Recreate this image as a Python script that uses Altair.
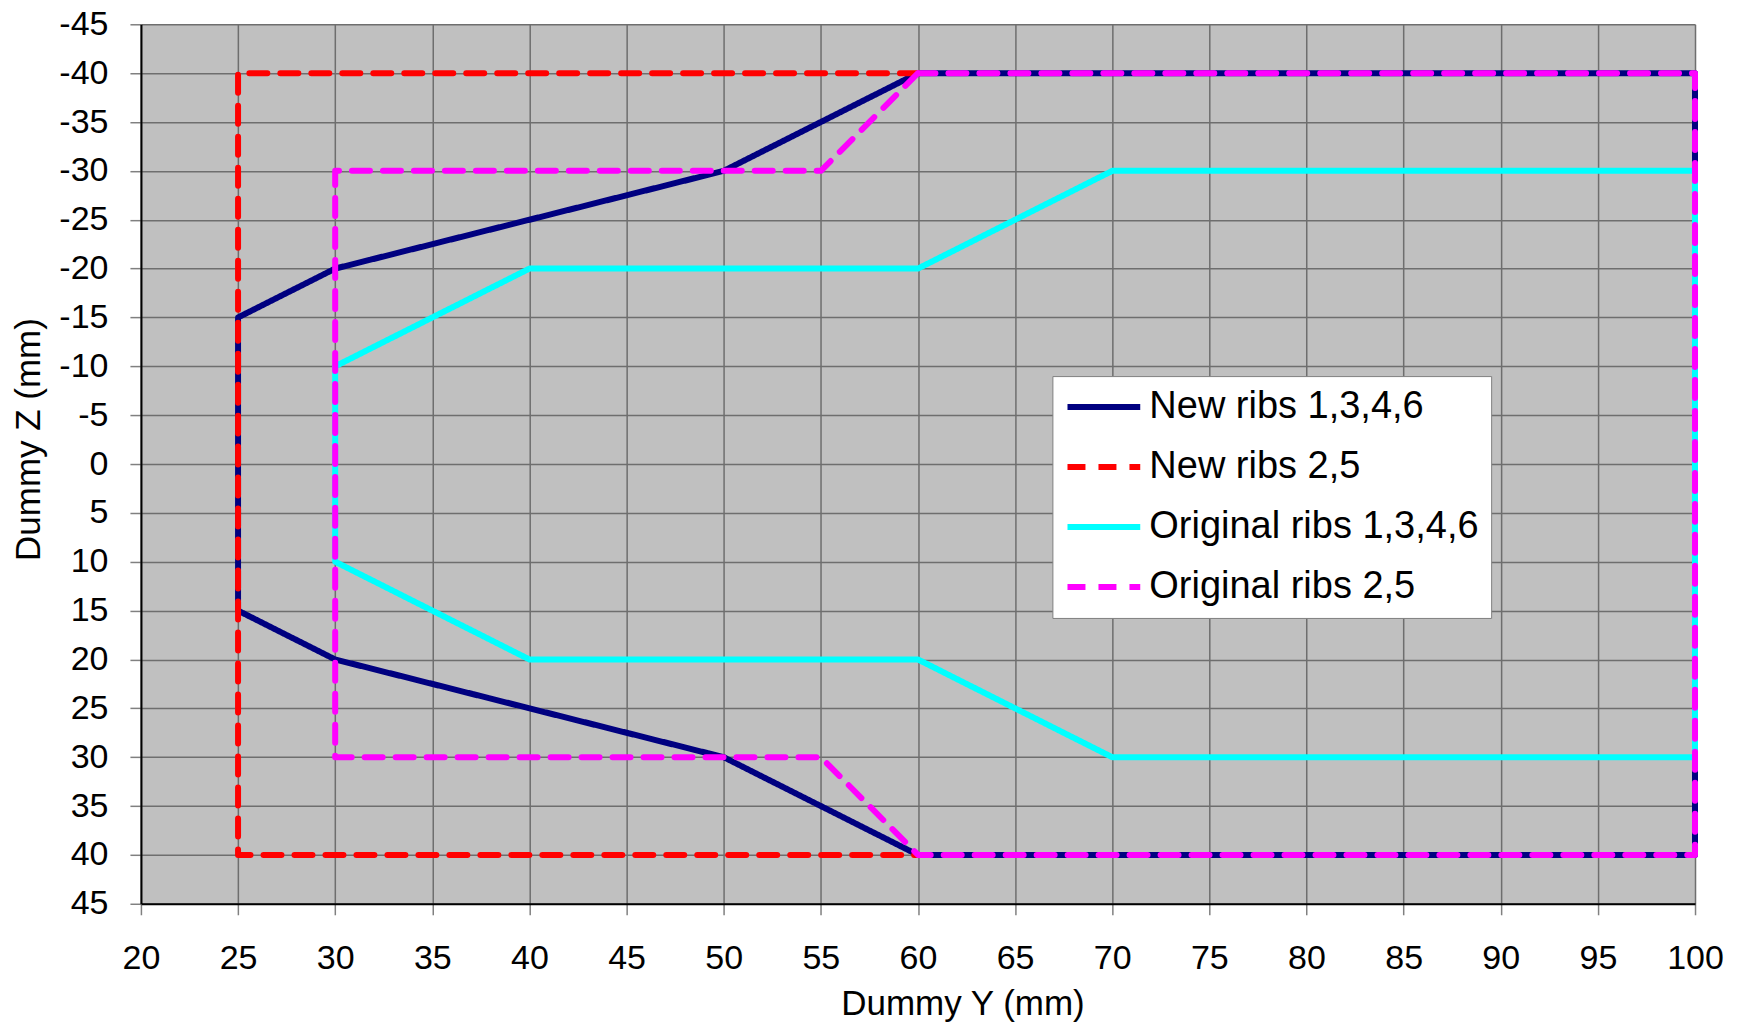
import altair as alt
import pandas as pd

series_names = ["New ribs 1,3,4,6", "New ribs 2,5", "Original ribs 1,3,4,6", "Original ribs 2,5"]

new_1346_y = [60, 50, 30, 25, 25, 30, 50, 60, 100, 100, 60]
new_1346_z = [-40, -30, -20, -15, 15, 20, 30, 40, 40, -40, -40]
new_25_y = [60, 25, 25, 60]
new_25_z = [-40, -40, 40, 40]
orig_1346_y = [100, 70, 60, 40, 30, 30, 40, 60, 70, 100, 100]
orig_1346_z = [-30, -30, -20, -20, -10, 10, 20, 20, 30, 30, -30]
orig_25_y = [60, 55, 30, 30, 55, 60, 100, 100, 60]
orig_25_z = [-40, -30, -30, 30, 30, 40, 40, -40, -40]

colors = ["#000080", "#FF0000", "#00FFFF", "#FF00FF"]
dashes = [[1, 0], [18, 13], [1, 0], [18, 13]]

x_ticks = list(range(20, 101, 5))
y_ticks = list(range(-45, 46, 5))

rows = []
for name, ys, zs in zip(series_names,
                        [new_1346_y, new_25_y, orig_1346_y, orig_25_y],
                        [new_1346_z, new_25_z, orig_1346_z, orig_25_z]):
    for i, (a, b) in enumerate(zip(ys, zs)):
        rows.append({"series": name, "y": a, "z": b, "i": i})
df = pd.DataFrame(rows)

FONT = "Liberation Sans"

legend_def = alt.Legend(
    title=None, orient="none", legendX=912, legendY=352,
    fillColor="white", strokeColor="#808080", padding=12, rowPadding=22,
    clipHeight=38,
    labelFontSize=38, labelFont=FONT, labelColor="black", labelLimit=500,
    symbolType="stroke", symbolSize=5300, symbolStrokeWidth=6, labelOffset=6,
    cornerRadius=0,
)

x_enc = alt.X("y:Q",
              scale=alt.Scale(domain=[20, 100], nice=False, zero=False),
              axis=alt.Axis(values=x_ticks, title="Dummy Y (mm)", labelFlush=False,
                            labelPadding=27, titleX=822, titleY=111,
                            titleBaseline="alphabetic", titleAlign="center"))
y_enc = alt.Y("z:Q",
              scale=alt.Scale(domain=[-45, 45], reverse=True, nice=False, zero=False),
              axis=alt.Axis(values=y_ticks, title="Dummy Z (mm)", labelFlush=False,
                            labelExpr="datum.value + ''", labelPadding=22,
                            titleX=-112, titleY=415, titleAngle=270,
                            titleBaseline="middle", titleAlign="center"))
color_enc = alt.Color("series:N", scale=alt.Scale(domain=series_names, range=colors), legend=legend_def)
dash_enc = alt.StrokeDash("series:N", scale=alt.Scale(domain=series_names, range=dashes), legend=legend_def)

layers = []
for s in series_names:
    layers.append(
        alt.Chart(df).transform_filter(alt.datum.series == s)
        .mark_line(strokeWidth=6, strokeCap="round", strokeJoin="round")
        .encode(x=x_enc, y=y_enc, color=color_enc, strokeDash=dash_enc, order="i:Q")
    )

chart = alt.layer(*layers).properties(
    width=1555, height=880,
    autosize=alt.AutoSizeParams(type="none"),
    padding={"left": 133, "top": 16, "right": 40, "bottom": 121},
).configure_view(
    fill="#C0C0C0", stroke="transparent"
).configure_axis(
    labelFont=FONT, labelFontSize=34, labelColor="black",
    titleFont=FONT, titleFontSize=35, titleFontWeight="normal", titleColor="black",
    domainColor="black", domainWidth=2,
    tickColor="#808080", tickSize=11, tickWidth=1.5,
    gridColor="#6e6e6e", gridWidth=1.5,
)

chart.save("out.html", embed_options={"renderer": "svg", "actions": False})
